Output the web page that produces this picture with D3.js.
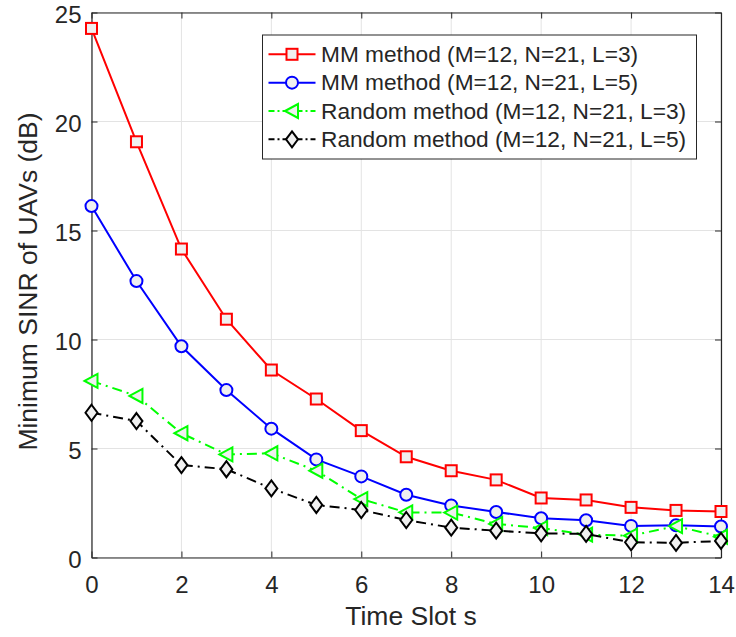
<!DOCTYPE html>
<html>
<head>
<meta charset="utf-8">
<script src="https://cdn.jsdelivr.net/npm/d3@7"></script>
<style>
  body { margin: 0; background: #fff; }
  text { font-family: "Liberation Sans", Arial, sans-serif; fill: #262626; }
</style>
</head>
<body>
<svg id="chart"></svg>
<script>
// time slots
const slots = d3.range(0, 15);

// values (dB)
const mmL3 = [24.27, 19.07, 14.15, 10.93, 8.6, 7.27, 5.82, 4.62, 3.98, 3.56, 2.73, 2.64, 2.3, 2.16, 2.11];
const mmL5 = [16.12, 12.68, 9.69, 7.68, 5.91, 4.5, 3.72, 2.88, 2.39, 2.09, 1.8, 1.71, 1.45, 1.48, 1.42];
const randL3 = [8.1, 7.41, 5.7, 4.73, 4.78, 3.98, 2.68, 2.07, 2.06, 1.54, 1.35, 1.05, 1.0, 1.44, 0.95];
const randL5 = [6.64, 6.26, 4.24, 4.05, 3.17, 2.41, 2.18, 1.72, 1.37, 1.23, 1.11, 1.08, 0.7, 0.67, 0.76];

const seriesNames = [
    "MM method (M=12, N=21, L=3)",
    "MM method (M=12, N=21, L=5)",
    "Random method (M=12, N=21, L=3)",
    "Random method (M=12, N=21, L=5)"
];

const xTicks = [0, 2, 4, 6, 8, 10, 12, 14];
const yTicks = [0, 5, 10, 15, 20, 25];

const config = {
    width: 736,
    height: 637,
    margin: { top: 12.5, right: 15, bottom: 79.5, left: 91.5 }
};

const styles = [
    { color: '#ff0000', dash: null, marker: 'square' },
    { color: '#0000ff', dash: null, marker: 'circle' },
    { color: '#00ff00', dash: '10,5,2,5', marker: 'triangle' },
    { color: '#000000', dash: '10,5,2,5', marker: 'diamond' }
];

const series = [mmL3, mmL5, randL3, randL5].map((vals, i) => ({
    name: seriesNames[i],
    style: styles[i],
    values: vals.map((v, j) => ({ x: slots[j], y: v }))
}));

const width = config.width - config.margin.left - config.margin.right;
const height = config.height - config.margin.top - config.margin.bottom;

const svg = d3.select('#chart')
    .attr('width', config.width)
    .attr('height', config.height);

const chart = svg.append('g')
    .attr('transform', `translate(${config.margin.left},${config.margin.top})`);

const xScale = d3.scaleLinear().domain([0, 14]).range([0, width]);
const yScale = d3.scaleLinear().domain([0, 25]).range([height, 0]);

// grid
chart.append('g')
    .selectAll('line.vgrid')
    .data(xTicks)
    .join('line')
    .attr('x1', d => xScale(d)).attr('x2', d => xScale(d))
    .attr('y1', 0).attr('y2', height)
    .attr('stroke', '#e3e3e3').attr('stroke-width', 1);

chart.append('g')
    .selectAll('line.hgrid')
    .data(yTicks)
    .join('line')
    .attr('x1', 0).attr('x2', width)
    .attr('y1', d => yScale(d)).attr('y2', d => yScale(d))
    .attr('stroke', '#e3e3e3').attr('stroke-width', 1);

// axes (ticks inside, like matlab)
const xAxis = d3.axisBottom(xScale).tickValues(xTicks).tickSizeInner(-6).tickSizeOuter(0).tickPadding(18);
const yAxis = d3.axisLeft(yScale).tickValues(yTicks).tickSizeInner(-6).tickSizeOuter(0).tickPadding(10);
const xAxisTop = d3.axisTop(xScale).tickValues(xTicks).tickSizeInner(-6).tickSizeOuter(0).tickFormat('');
const yAxisRight = d3.axisRight(yScale).tickValues(yTicks).tickSizeInner(-6).tickSizeOuter(0).tickFormat('');

const axisGroups = [
    chart.append('g').attr('transform', `translate(0,${height})`).call(xAxis),
    chart.append('g').attr('class', 'y-axis').call(yAxis),
    chart.append('g').call(xAxisTop),
    chart.append('g').attr('transform', `translate(${width},0)`).call(yAxisRight)
];
axisGroups.forEach(g => {
    g.attr('font-size', null);
    g.select('.domain').attr('stroke', '#262626').attr('stroke-width', 1.2);
    g.selectAll('.tick line').attr('stroke', '#262626').attr('stroke-width', 1);
    g.selectAll('.tick text')
        .style('font-size', '24px')
        .style('font-family', '"Liberation Sans", Arial, sans-serif')
        .attr('fill', '#262626');
});
// nudge y tick labels down a little, like the reference
chart.select('.y-axis').selectAll('.tick text').attr('dy', '0.42em');

// axis labels
svg.append('text')
    .attr('x', 411)
    .attr('y', 625)
    .attr('text-anchor', 'middle')
    .style('font-size', '26.5px')
    .text('Time Slot s');

svg.append('text')
    .attr('transform', `translate(37,281.5) rotate(-90)`)
    .attr('text-anchor', 'middle')
    .style('font-size', '26.5px')
    .text('Minimum SINR of UAVs (dB)');

// marker helper
function drawMarker(sel, type, color) {
    if (type === 'square') {
        sel.append('rect')
            .attr('x', -5.5).attr('y', -5.5).attr('width', 11).attr('height', 11);
    } else if (type === 'circle') {
        sel.append('circle').attr('r', 6);
    } else if (type === 'triangle') {
        sel.append('path').attr('d', 'M-7,0L6,-7L6,7Z');
    } else {
        sel.append('path').attr('d', 'M0,-8L6,0L0,8L-6,0Z');
    }
    sel.selectAll('*')
        .attr('fill', '#f0f0f0')
        .attr('stroke', color)
        .attr('stroke-width', 2);
}

const line = d3.line()
    .x(d => xScale(d.x))
    .y(d => yScale(d.y));

series.forEach(s => {
    chart.append('path')
        .datum(s.values)
        .attr('fill', 'none')
        .attr('stroke', s.style.color)
        .attr('stroke-width', 2)
        .attr('stroke-dasharray', s.style.dash)
        .attr('d', line);

    chart.append('g')
        .selectAll('g')
        .data(s.values)
        .join('g')
        .attr('transform', d => `translate(${xScale(d.x)},${yScale(d.y)})`)
        .each(function() { drawMarker(d3.select(this), s.style.marker, s.style.color); });
});

// legend
const legend = svg.append('g').attr('transform', 'translate(262.5,35)');
legend.append('rect')
    .attr('width', 434).attr('height', 124)
    .attr('fill', '#fff')
    .attr('stroke', '#262626').attr('stroke-width', 1);

series.forEach((s, i) => {
    const row = legend.append('g').attr('transform', `translate(0,${19.3 + i * 28.35})`);
    row.append('line')
        .attr('x1', 6).attr('x2', 53)
        .attr('stroke', s.style.color)
        .attr('stroke-width', 2)
        .attr('stroke-dasharray', s.style.dash ? '6,3,2,3' : null);
    const m = row.append('g').attr('transform', 'translate(29.5,0)');
    drawMarker(m, s.style.marker, s.style.color);
    row.append('text')
        .attr('x', 58.5)
        .attr('y', 7.8)
        .style('font-size', '22.7px')
        .attr('fill', '#000')
        .text(s.name);
});
</script>
</body>
</html>
